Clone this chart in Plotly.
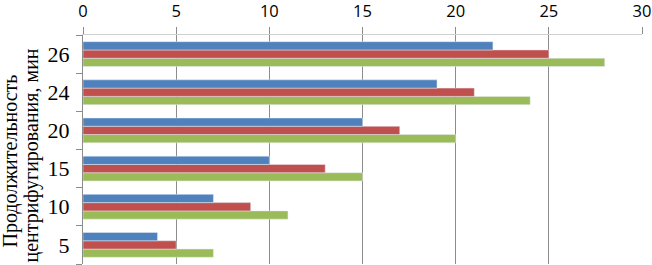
import plotly.graph_objects as go

categories = ["5", "10", "15", "20", "24", "26"]
series_blue = [4, 7, 10, 15, 19, 22]
series_red = [5, 9, 13, 17, 21, 25]
series_green = [7, 11, 15, 20, 24, 28]
x_ticks = [0, 5, 10, 15, 20, 25, 30]
title_line1 = "Продолжительность"
title_line2 = "центрифугирования, мин"

fig = go.Figure()
fig.add_trace(go.Bar(y=categories, x=series_green, orientation="h", marker_color="#9BBB59", name="3"))
fig.add_trace(go.Bar(y=categories, x=series_red, orientation="h", marker_color="#C0504D", name="2"))
fig.add_trace(go.Bar(y=categories, x=series_blue, orientation="h", marker_color="#4F81BD", name="1"))

serif = "Liberation Serif, Times New Roman, serif"

fig.update_layout(
    width=652, height=265,
    margin=dict(l=83, r=10, t=35, b=1),
    paper_bgcolor="white", plot_bgcolor="white",
    barmode="group", bargap=0.35, bargroupgap=0,
    showlegend=False,
    xaxis=dict(
        side="top", range=[0, 30], tickvals=x_ticks, automargin=False,
        showgrid=True, gridcolor="#8C8C8C", gridwidth=1,
        zeroline=False, showline=True, linecolor="#D0D0D0", linewidth=1,
        ticks="outside", ticklen=7, tickcolor="#8C8C8C",
        ticklabelstandoff=3, ticklabeloverflow="allow",
        tickfont=dict(family="Open Sans, Calibri, sans-serif", size=16.5, color="black"),
    ),
    yaxis=dict(
        type="category", categoryorder="array", categoryarray=categories,
        automargin=False,
        showline=True, linecolor="#8C8C8C", linewidth=1,
        ticks="outside", tickson="boundaries", ticklen=6, tickcolor="#8C8C8C",
        ticklabelstandoff=8,
        tickfont=dict(family=serif, size=22, color="black"),
        showgrid=False,
    ),
    annotations=[
        dict(text=title_line1, textangle=-90, xref="paper", yref="paper",
             x=0, y=0.5, xanchor="center", yanchor="middle", xshift=-73, yshift=-12,
             showarrow=False, font=dict(family=serif, size=20, color="black")),
        dict(text=title_line2, textangle=-90, xref="paper", yref="paper",
             x=0, y=0.5, xanchor="center", yanchor="middle", xshift=-52, yshift=-6,
             showarrow=False, font=dict(family=serif, size=20, color="black")),
    ],
)

fig.write_html("out.html", config={"displayModeBar": False},
               post_script="document.body.style.margin='0';")
